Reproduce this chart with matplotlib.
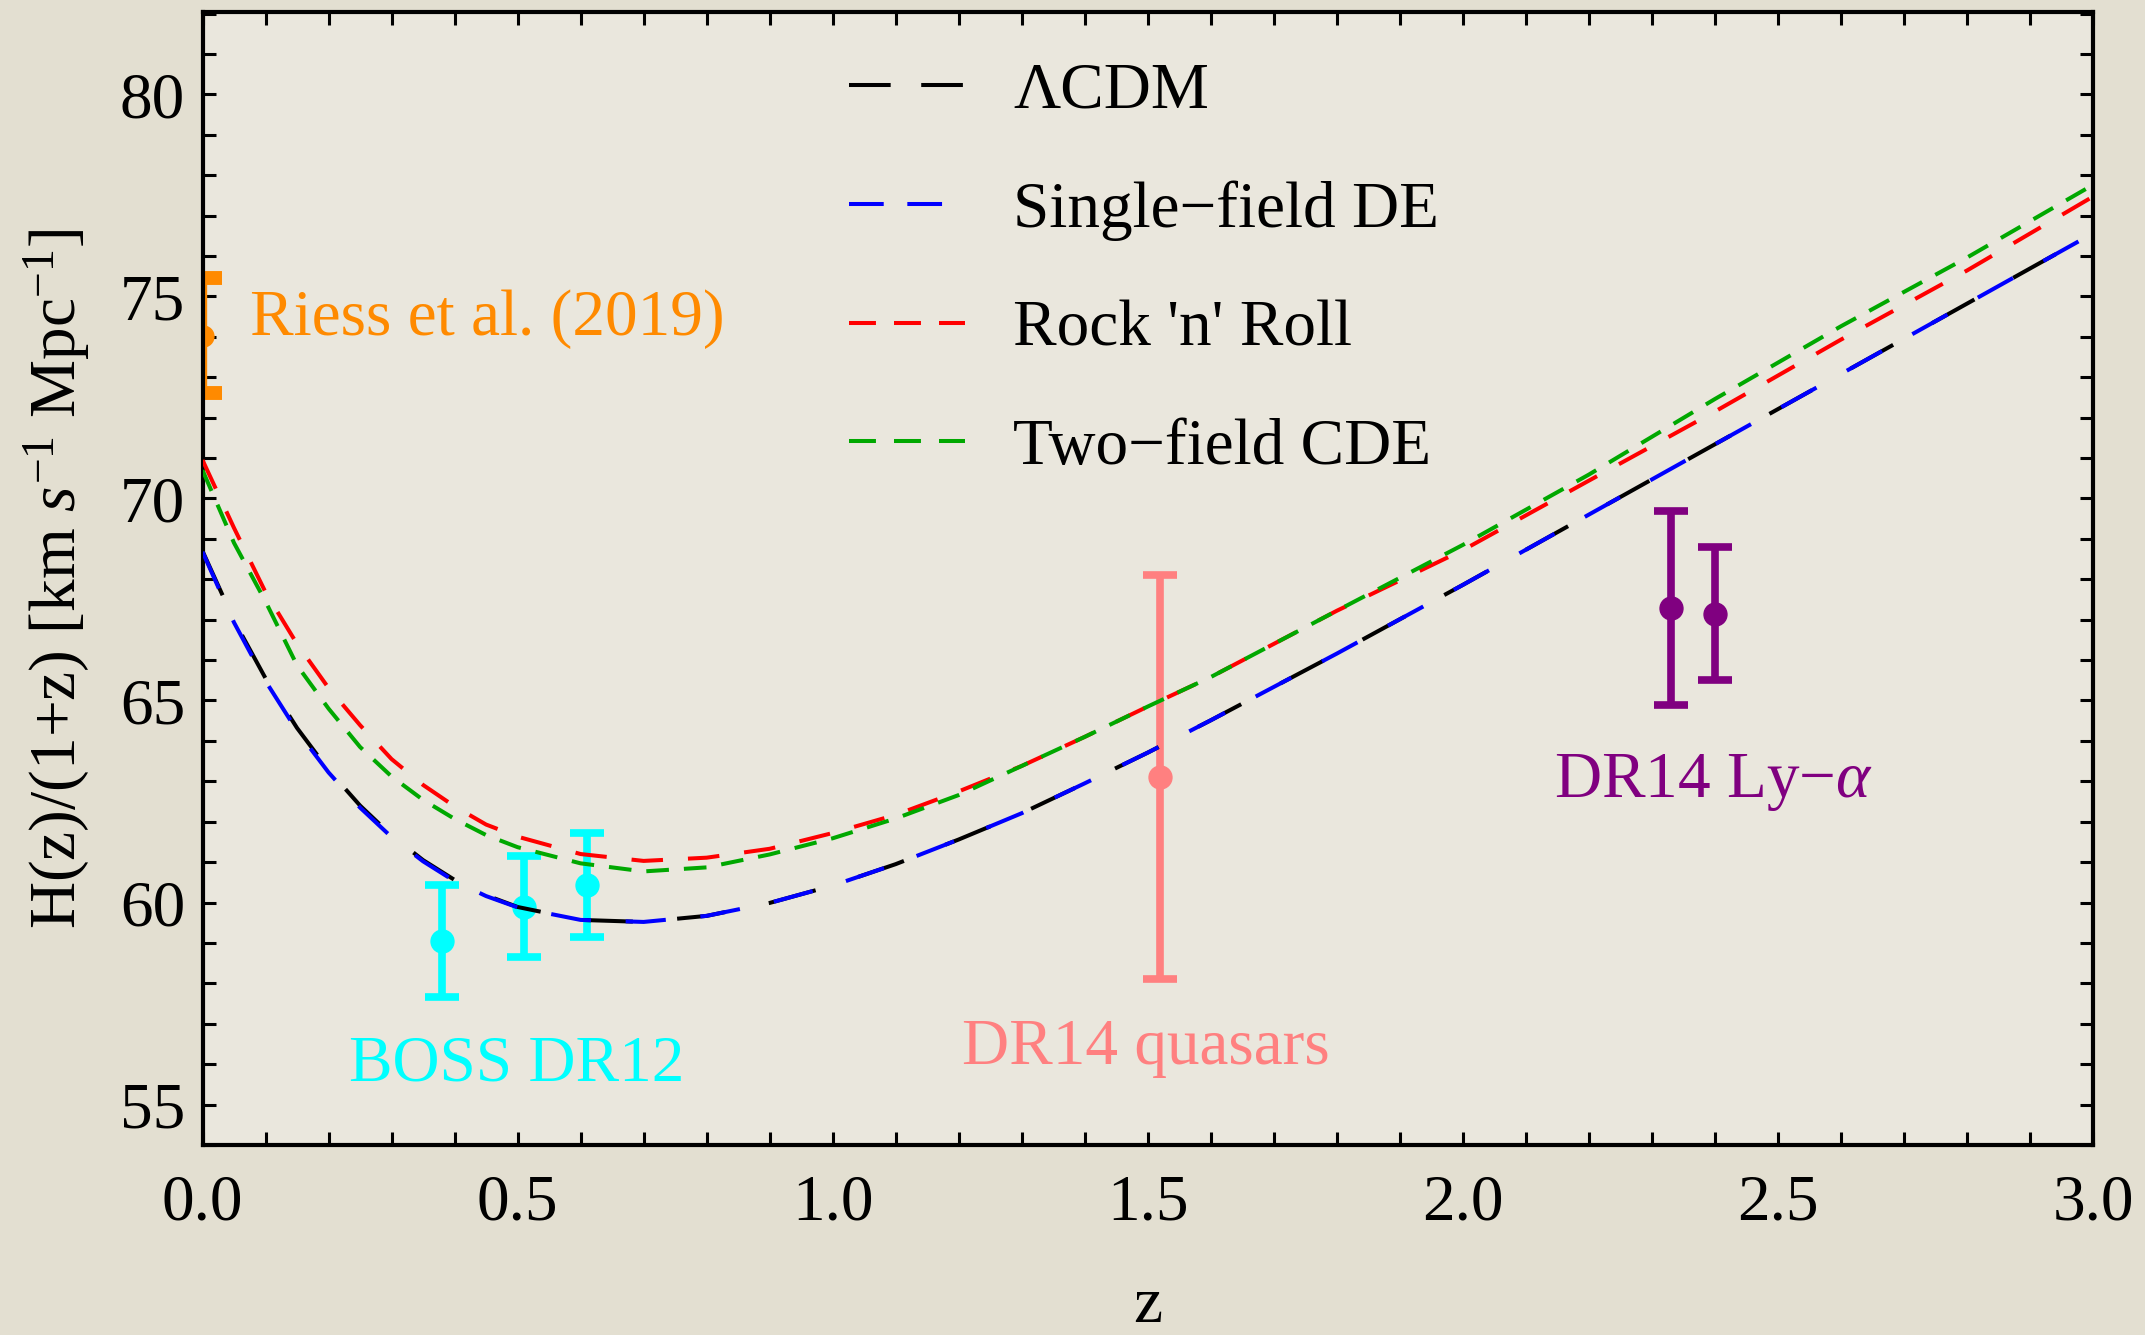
import matplotlib
matplotlib.use("Agg")
import matplotlib.pyplot as plt
from matplotlib.ticker import MultipleLocator, FormatStrFormatter
from matplotlib.lines import Line2D

plt.rcParams['font.family'] = ['Liberation Serif', 'DejaVu Serif']
plt.rcParams['mathtext.fontset'] = 'custom'
plt.rcParams['mathtext.rm'] = 'Liberation Serif'
plt.rcParams['mathtext.it'] = 'Liberation Serif:italic'
plt.rcParams['lines.scale_dashes'] = False

# ---------------- data ----------------
z_grid = [0.0, 0.05, 0.1, 0.15, 0.2, 0.25, 0.3, 0.35, 0.4, 0.45, 0.5, 0.6, 0.7,
          0.8, 0.9, 1.0, 1.1, 1.2, 1.3, 1.4, 1.5, 1.6, 1.8, 2.0, 2.2, 2.4, 2.6,
          2.8, 3.0]
h_lcdm = [68.70, 66.98, 65.55, 64.32, 63.28, 62.40, 61.66, 61.05, 60.56, 60.18,
          59.89, 59.57, 59.52, 59.67, 59.99, 60.42, 60.95, 61.56, 62.21, 62.95,
          63.71, 64.51, 66.16, 67.86, 69.60, 71.34, 73.08, 74.82, 76.56]
h_single = [68.68, 66.93, 65.48, 64.25, 63.22, 62.35, 61.62, 61.02, 60.53, 60.16,
            59.88, 59.57, 59.52, 59.67, 59.99, 60.42, 60.95, 61.56, 62.21, 62.95,
            63.71, 64.51, 66.16, 67.86, 69.60, 71.34, 73.08, 74.82, 76.56]
h_rocknroll = [70.95, 69.27, 67.68, 66.40, 65.31, 64.39, 63.55, 62.91, 62.38, 61.93,
               61.63, 61.20, 61.03, 61.11, 61.33, 61.72, 62.17, 62.75, 63.38, 64.10,
               64.85, 65.58, 67.22, 68.72, 70.44, 72.15, 73.93, 75.64, 77.47]
h_twofield = [70.70, 68.90, 67.45, 65.87, 64.80, 63.85, 63.12, 62.54, 62.07, 61.67,
              61.37, 60.97, 60.77, 60.87, 61.19, 61.59, 62.08, 62.66, 63.38, 64.10,
              64.85, 65.58, 67.22, 68.85, 70.59, 72.46, 74.26, 75.96, 77.76]

riess_z = [0.0]
riess_h = [74.03]
riess_err = [1.42]

boss_z = [0.38, 0.51, 0.61]
boss_h = [59.05, 59.89, 60.43]
boss_err = [1.38, 1.25, 1.29]

qso_z = [1.52]
qso_h = [63.1]
qso_err = [5.0]

lya_z = [2.33, 2.40]
lya_h = [67.28, 67.15]
lya_err = [2.40, 1.65]

x_ticks = [0.0, 0.5, 1.0, 1.5, 2.0, 2.5, 3.0]
y_ticks = [55, 60, 65, 70, 75, 80]

series_labels = ['\u039bCDM', 'Single\u2212field DE', "Rock 'n' Roll", 'Two\u2212field CDE']

# ---------------- figure ----------------
W, H = 2145, 1335
fig = plt.figure(figsize=(W / 100, H / 100), dpi=100)
fig.patch.set_facecolor('#e3dfd1')
ax = fig.add_axes([202.5 / W, 1 - 1145 / H, (2093 - 202.5) / W, (1145 - 12.3) / H])
ax.set_facecolor('#eae7dd')

FS = 47

# data with error bars (below the curves)
eb_kw = dict(fmt='o', elinewidth=5.5, capthick=5.5, capsize=12, ms=16.5, zorder=2)
ax.errorbar(riess_z, riess_h, yerr=riess_err, color='#ff8a00', fmt='o', ms=15,
            elinewidth=6, capsize=14, capthick=10, zorder=2)
ax.errorbar(boss_z, boss_h, yerr=boss_err, color='#00ffff', **eb_kw)
ax.errorbar(qso_z, qso_h, yerr=qso_err, color='#ff8080', **eb_kw)
ax.errorbar(lya_z, lya_h, yerr=lya_err, color='#800080', **eb_kw)

# model curves
LW = 2.9
ax.plot(z_grid, h_lcdm, color='black', lw=LW, dashes=(35, 32), zorder=3)
ax.plot(z_grid, h_single, color='#0000ff', lw=LW, dashes=(29, 25), zorder=3.1)
ax.plot(z_grid, h_rocknroll, color='#ff0000', lw=LW, dashes=(22.7, 18), zorder=3.2)
ax.plot(z_grid, h_twofield, color='#00a800', lw=LW, dashes=(16.3, 10.8), zorder=3.3)

# legend with its own dash patterns
handles = [
    Line2D([], [], color='black', lw=LW, dashes=(30, 22)),
    Line2D([], [], color='#0000ff', lw=LW, dashes=(25, 17)),
    Line2D([], [], color='#ff0000', lw=LW, dashes=(19.4, 13)),
    Line2D([], [], color='#00a800', lw=LW, dashes=(19.4, 13)),
]
ax.legend(handles, series_labels, loc='upper left', bbox_to_anchor=(0.342, 0.956),
          frameon=False, fontsize=FS, handlelength=1.78, handletextpad=0.735,
          labelspacing=0.9, borderpad=0, borderaxespad=0)

# annotations
ax.text(0.0754, 74.44, 'Riess et al. (2019)', color='#ff8a00', fontsize=FS,
        ha='left', va='center')
ax.text(0.499, 55.99, 'BOSS DR12', color='#00ffff', fontsize=FS, ha='center', va='center')
ax.text(1.497, 56.40, 'DR14 quasars', color='#ff8080', fontsize=FS, ha='center', va='center')
ax.text(2.397, 62.97, r'DR14 Ly$-\alpha$', color='#800080', fontsize=FS,
        ha='center', va='center')

# axes
ax.set_xlim(0, 3)
ax.set_ylim(54, 82.03)
ax.set_xticks(x_ticks)
ax.set_yticks(y_ticks)
ax.xaxis.set_major_formatter(FormatStrFormatter('%.1f'))
ax.yaxis.set_major_formatter(FormatStrFormatter('%d'))
ax.xaxis.set_minor_locator(MultipleLocator(0.1))
ax.yaxis.set_minor_locator(MultipleLocator(1))
ax.tick_params(which='both', direction='in', length=9.5, width=2.2,
               top=True, right=True, labelsize=FS)
ax.tick_params(axis='x', which='both', pad=21)
ax.tick_params(axis='y', which='both', pad=12.5)
for sp in ax.spines.values():
    sp.set_linewidth(3)

ax.set_xlabel('z', fontsize=FS, labelpad=31)
ax.set_ylabel(r'H(z)/(1+z) [km $s^{-1}$ Mpc$^{-1}$]', fontsize=FS, labelpad=20)

fig.savefig('out.png', dpi=100, facecolor=fig.get_facecolor())
